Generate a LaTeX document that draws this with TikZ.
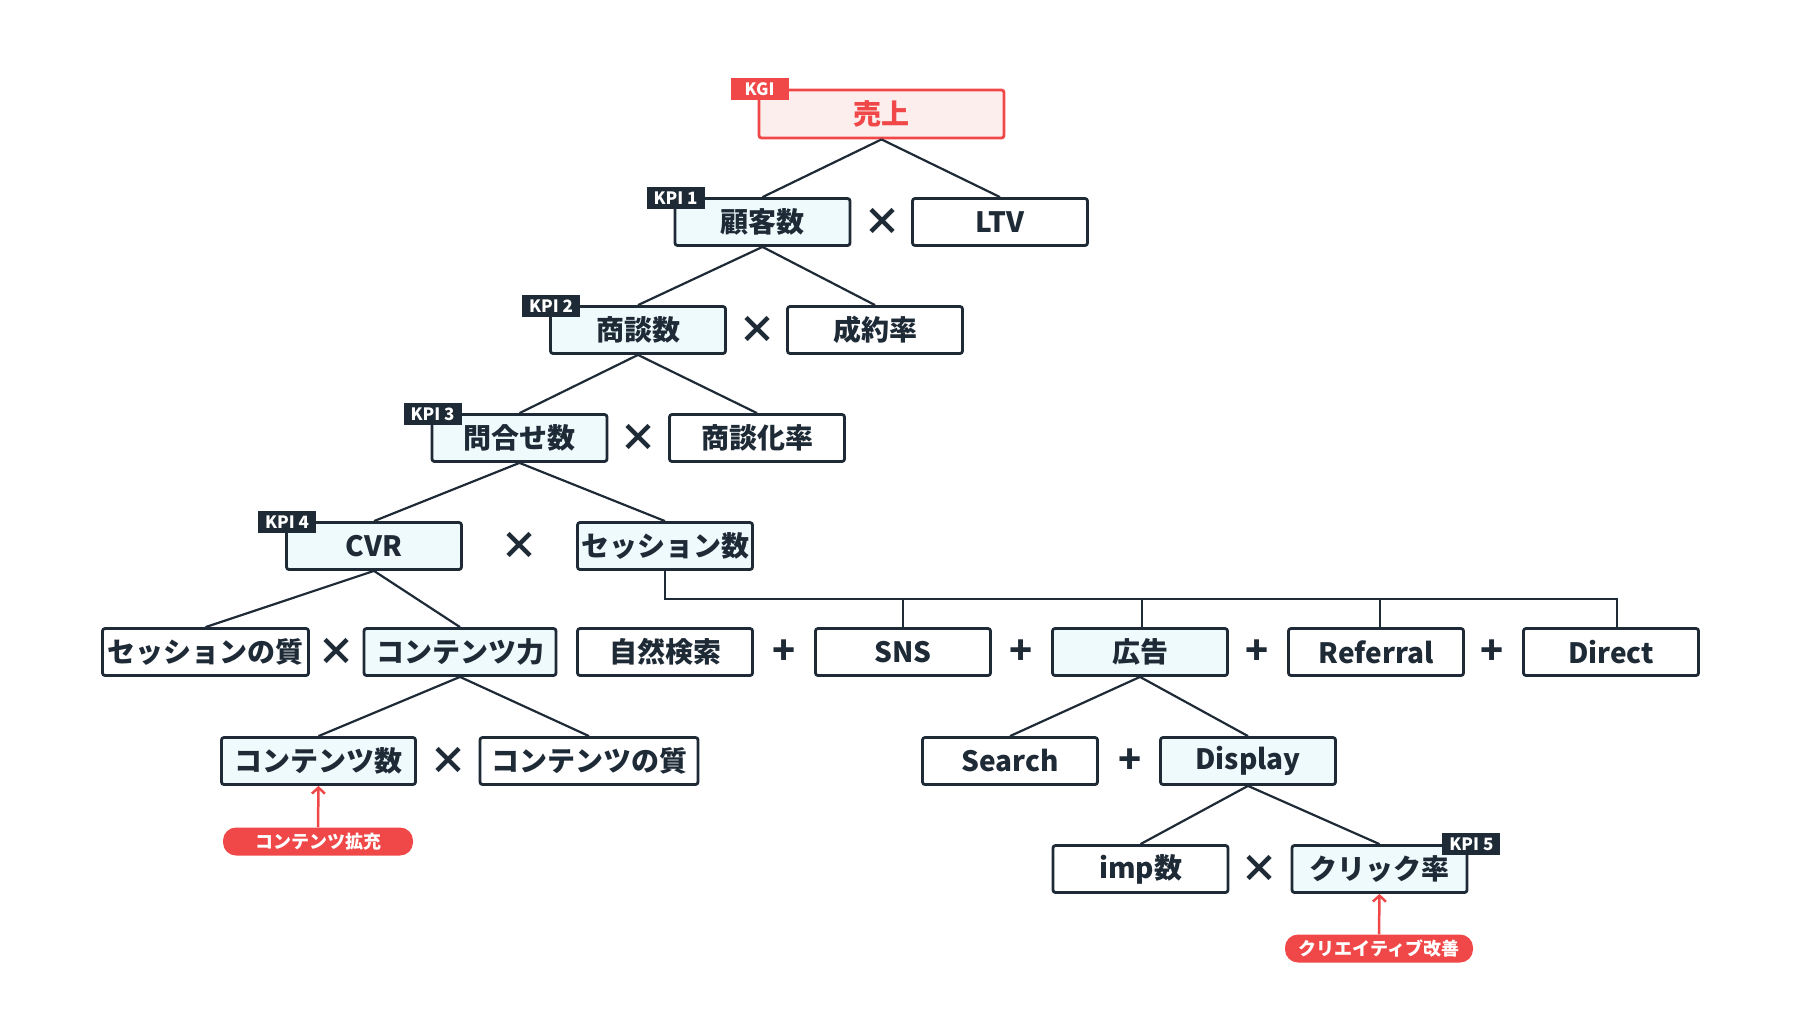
\documentclass[tikz,border=0pt]{standalone}
\usepackage{fontspec}
\setmainfont{Noto Sans CJK JP}
\usetikzlibrary{arrows.meta}
\definecolor{navy}{HTML}{1E2A36}
\definecolor{kpifill}{HTML}{EEFAFC}
\definecolor{kred}{HTML}{F04848}
\definecolor{kpink}{HTML}{FDEEEE}
\tikzset{
 box/.style={draw=navy, line width=2.8pt, rounded corners=2.5pt, fill=white, minimum width=175pt, minimum height=47pt, inner sep=0pt, text=navy, font=\fontsize{28}{30}\selectfont\bfseries},
 kbox/.style={box, fill=kpifill},
 kgibox/.style={box, draw=kred, fill=kpink, text=kred, minimum width=245pt, minimum height=48pt},
 tag/.style={fill=navy, text=white, font=\fontsize{17}{19}\selectfont\bfseries, minimum width=58pt, minimum height=22pt, inner sep=0pt},
 kgitag/.style={tag, fill=kred},
 op/.style={text=navy, font=\fontsize{38}{40}\selectfont\bfseries, inner sep=0pt},
 link/.style={draw=navy, line width=2.2pt},
 pill/.style={fill=kred, text=white, rounded corners=13pt, minimum width=190pt, minimum height=28pt, inner sep=0pt, font=\fontsize{18}{20}\selectfont\bfseries},
 redarrow/.style={draw=kred, line width=2.5pt, -{Straight Barb[length=6pt,width=13pt]}},
}
\begin{document}
\begin{tikzpicture}[x=1pt,y=-1pt]
\useasboundingbox (0,0) rectangle (1800,1012);
% row 0
\node[kgibox] (uriage) at (881.5,114) {売上};
% row 1
\node[kbox] (kokyaku) at (762.5,222) {顧客数};
\node[box] (ltv) at (1000,222) {LTV};
\node[op] (op1) at (882,222) {×};
% row 2
\node[kbox] (shodan) at (638,330) {商談数};
\node[box] (seiyaku) at (875,330) {成約率};
\node[op] (op2) at (757,330) {×};
% row 3
\node[kbox] (toiawase) at (519.5,438) {問合せ数};
\node[box] (shodanka) at (757,438) {商談化率};
\node[op] (op3) at (638,438) {×};
% row 4
\node[kbox] (cvr) at (374,546) {CVR};
\node[kbox] (sess) at (665,546) {セッション数};
\node[op] (op4) at (519,546) {×};
% row 5
\node[box, minimum width=206pt] (sessq) at (205.5,652) {セッションの質};
\node[kbox, minimum width=192pt] (cpower) at (460,652) {コンテンツ力};
\node[op] (op5) at (336,652) {×};
\node[box] (organic) at (665,652) {自然検索};
\node[box] (sns) at (903,652) {SNS};
\node[kbox] (ad) at (1140,652) {広告};
\node[box] (referral) at (1376,652) {Referral};
\node[box] (direct) at (1611,652) {Direct};
\node[op] (p1) at (784,652) {+};
\node[op] (p2) at (1021,652) {+};
\node[op] (p3) at (1257,652) {+};
\node[op] (p4) at (1492,652) {+};
% row 6
\node[kbox, minimum width=194pt] (ccount) at (318.5,761) {コンテンツ数};
\node[box, minimum width=218pt] (cqual) at (589,761) {コンテンツの質};
\node[op] (op6) at (448,761) {×};
\node[box] (search) at (1010,761) {Search};
\node[kbox] (display) at (1248,761) {Display};
\node[op] (p5) at (1130,761) {+};
% row 7
\node[box] (imp) at (1140.5,869) {imp数};
\node[kbox] (ctr) at (1379.5,869) {クリック率};
\node[op] (op7) at (1259.5,869) {×};
% connectors
\draw[link] (uriage.south) -- (kokyaku.north);
\draw[link] (uriage.south) -- (ltv.north);
\draw[link] (kokyaku.south) -- (shodan.north);
\draw[link] (kokyaku.south) -- (seiyaku.north);
\draw[link] (shodan.south) -- (toiawase.north);
\draw[link] (shodan.south) -- (shodanka.north);
\draw[link] (toiawase.south) -- (cvr.north);
\draw[link] (toiawase.south) -- (sess.north);
\draw[link] (cvr.south) -- (sessq.north);
\draw[link] (cvr.south) -- (cpower.north);
\draw[link] (cpower.south) -- (ccount.north);
\draw[link] (cpower.south) -- (cqual.north);
\draw[link] (ad.south) -- (search.north);
\draw[link] (ad.south) -- (display.north);
\draw[link] (display.south) -- (imp.north);
\draw[link] (display.south) -- (ctr.north);
\coordinate (bus) at (0,599);
\draw[link] (sess.south) -- (sess.south |- bus) -| ([xshift=6pt]direct.north);
\draw[link] (sns.north) -- (sns.north |- bus);
\draw[link] ([xshift=2pt]ad.north) -- ([xshift=2pt]ad.north |- bus);
\draw[link] ([xshift=4pt]referral.north) -- ([xshift=4pt]referral.north |- bus);
% tags
\node[kgitag] (tkgi) at ([shift={(2,0.5)}]uriage.north west) {KGI};
\node[tag] (t1) at ([shift={(2,1)}]kokyaku.north west) {KPI 1};
\node[tag] (t2) at ([shift={(2,1)}]shodan.north west) {KPI 2};
\node[tag] (t3) at ([shift={(2,1)}]toiawase.north west) {KPI 3};
\node[tag] (t4) at ([shift={(2,1)}]cvr.north west) {KPI 4};
\node[tag] (t5) at ([shift={(3,0)}]ctr.north east) {KPI 5};
% callouts
\node[pill] (pill1) at (318,841.5) {コンテンツ拡充};
\node[pill, minimum width=188pt] (pill2) at (1379,948.5) {クリエイティブ改善};
\draw[redarrow] (pill1.north) -- (ccount.south);
\draw[redarrow] (pill2.north) -- (ctr.south);
\end{tikzpicture}
\end{document}
